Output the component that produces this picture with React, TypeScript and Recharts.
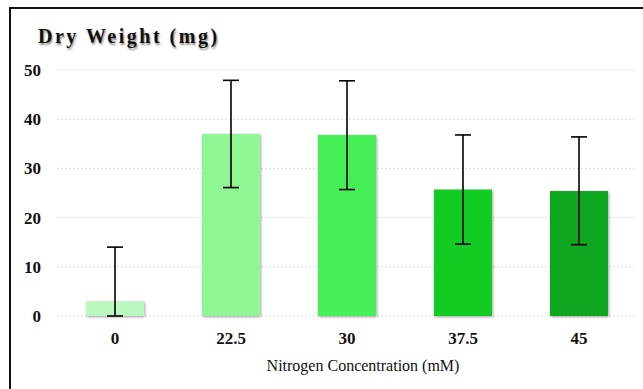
import React from 'react';
import { BarChart, Bar, XAxis, YAxis, CartesianGrid, ErrorBar, Cell, Label } from 'recharts';

const categories = ['0', '22.5', '30', '37.5', '45'];
const dryWeight = [3.0, 37.0, 36.8, 25.7, 25.4];
const errLow = [3.0, 10.9, 11.1, 11.1, 10.9];
const errHigh = [11.0, 10.9, 11.0, 11.1, 11.0];
const barColors = ['#bbf8c0', '#90f595', '#45ef55', '#12cc24', '#0fa61f'];
const yTicks = [0, 10, 20, 30, 40, 50];

const data = categories.map((c, i) => ({
  name: c,
  value: dryWeight[i],
  err: [errLow[i], errHigh[i]],
}));

const SERIF = '"Liberation Serif", "Times New Roman", serif';

const ShadowBar = (props: any) => {
  const { x, y, width, height, fill } = props;
  return (
    <rect
      x={x}
      y={y}
      width={width}
      height={height}
      fill={fill}
      style={{ filter: 'drop-shadow(1.5px 1.5px 1.5px rgba(0,0,0,0.35))' }}
    />
  );
};

const AxisTitle = (props: any) => {
  const vb = props.viewBox || {};
  return (
    <text
      x={vb.x + vb.width / 2 + 16}
      y={vb.y + 55}
      textAnchor="middle"
      fontFamily={SERIF}
      fontSize={16}
      fill="#111"
    >
      Nitrogen Concentration (mM)
    </text>
  );
};

export default function App() {
  return (
    <div
      style={{
        position: 'fixed',
        left: 0,
        top: 0,
        width: 643,
        height: 389,
        overflow: 'hidden',
        background: '#fff',
      }}
    >
      <div
        style={{
          position: 'absolute',
          left: 9,
          top: 7,
          width: 900,
          height: 600,
          border: '2px solid #111',
          boxSizing: 'border-box',
        }}
      />
      <div
        style={{
          position: 'absolute',
          left: 38,
          top: 26,
          fontFamily: SERIF,
          fontWeight: 'bold',
          fontSize: 20,
          lineHeight: '20px',
          letterSpacing: 2.5,
          color: '#111',
          whiteSpace: 'nowrap',
          textShadow: '1px 2px 2px rgba(0,0,0,0.45)',
        }}
      >
        Dry Weight (mg)
      </div>
      <div style={{ position: 'absolute', left: 0, top: 0 }}>
        <BarChart
          width={643}
          height={389}
          data={data}
          margin={{ top: 70, right: 6, left: 10, bottom: 0 }}
          barCategoryGap="25%"
        >
          <CartesianGrid vertical={false} stroke="#dcdcdc" strokeDasharray="2 2" />
          <XAxis
            dataKey="name"
            axisLine={false}
            tickLine={false}
            tickSize={0}
            tickMargin={16}
            height={73}
            interval={0}
            tick={{ fill: '#111', fontFamily: SERIF, fontWeight: 'bold', fontSize: 17 }}
          >
            <Label content={<AxisTitle />} />
          </XAxis>
          <YAxis
            domain={[0, 50]}
            ticks={yTicks}
            axisLine={false}
            tickLine={false}
            tickSize={0}
            tickMargin={16}
            width={47}
            tick={{ fill: '#111', fontFamily: SERIF, fontWeight: 'bold', fontSize: 17 }}
          />
          <Bar dataKey="value" isAnimationActive={false} shape={<ShadowBar />}>
            {data.map((d, i) => (
              <Cell key={d.name} fill={barColors[i]} />
            ))}
            <ErrorBar dataKey="err" width={8} strokeWidth={1.6} stroke="#000" direction="y" />
          </Bar>
        </BarChart>
      </div>
    </div>
  );
}
